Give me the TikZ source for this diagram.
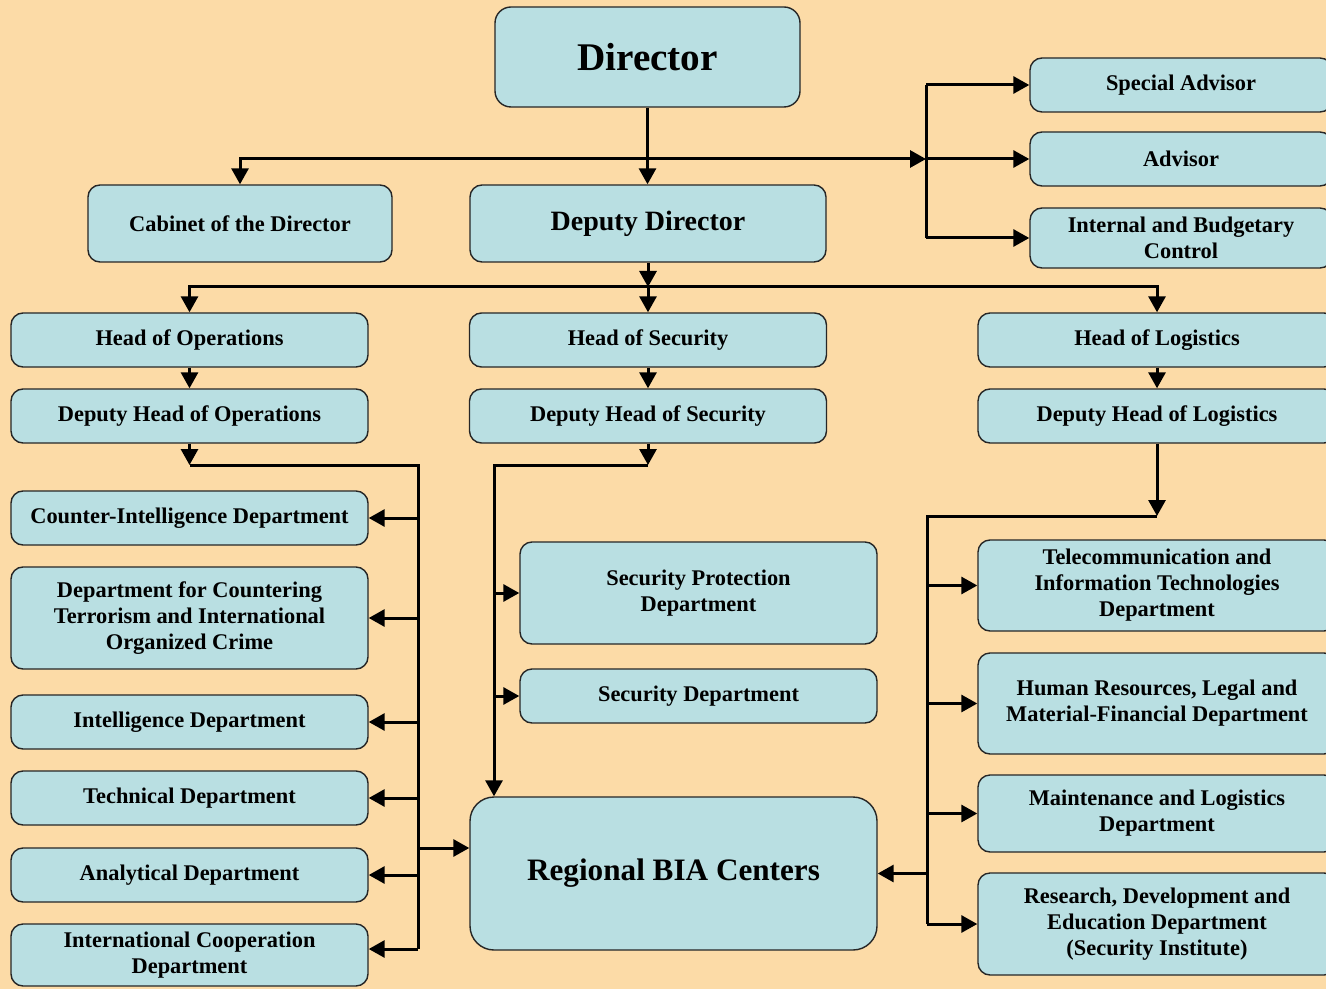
\documentclass[tikz,border=0pt]{standalone}
\usepackage{fontspec}
\setmainfont{Liberation Serif}
\usetikzlibrary{positioning,arrows.meta}
\definecolor{paper}{HTML}{FCDBA7}
\definecolor{boxfill}{HTML}{B9DFE2}

\begin{document}
\begin{tikzpicture}[x=0.5pt,y=-0.5pt,on grid,
    box/.style={draw=black!85,line width=0.7pt,fill=boxfill,rounded corners=6pt,
      minimum width=178.5pt,minimum height=27pt,inner sep=0pt,align=center,
      font=\bfseries\fontsize{11.2}{13}\selectfont},
    link/.style={line width=1.5pt,-{Triangle[length=8pt,width=8.5pt]}},
    bus/.style={line width=1.5pt}]
    \clip (0,0) rectangle (1326,989);
    \fill[paper] (0,0) rectangle (1326,989);

    % top level
    \node[box,minimum width=152.5pt,minimum height=50pt,rounded corners=8pt,
      font=\bfseries\fontsize{19.6}{22}\selectfont] (dir) at (647.5,57) {Director};
    \node[box,minimum width=152pt,minimum height=38.5pt] (cab) at (240,223.5) {Cabinet of the Director};
    \node[box,minimum width=178pt,minimum height=38.5pt,
      font=\bfseries\fontsize{14}{16}\selectfont] (ddir) at (648,223.5) {Deputy Director};
    \node[box,minimum width=151pt] (sadv) at (1181,85) {Special Advisor};
    \node[box,minimum width=151pt] (adv) [below=37pt of sadv] {Advisor};
    \node[box,minimum width=151pt,minimum height=30pt] (ibc) [below=39.5pt of adv] {Internal and Budgetary\\Control};

    % heads and deputies
    \node[box] (hops) at (189.5,340) {Head of Operations};
    \node[box] (dhops) [below=38pt of hops] {Deputy Head of Operations};
    \node[box] (hsec) at (648,340) {Head of Security};
    \node[box] (dhsec) [below=38pt of hsec] {Deputy Head of Security};
    \node[box,minimum width=179pt] (hlog) at (1157,340) {Head of Logistics};
    \node[box,minimum width=179pt] (dhlog) [below=38pt of hlog] {Deputy Head of Logistics};

    % operations
    \node[box] (ci) [below=51pt of dhops] {Counter-Intelligence Department};
    \node[box,minimum height=51pt] (ctoc) [below=50pt of ci] {Department for Countering\\Terrorism and International\\Organized Crime};
    \node[box] (intel) [below=52pt of ctoc] {Intelligence Department};
    \node[box] (tech) [below=38pt of intel] {Technical Department};
    \node[box] (anal) [below=38.5pt of tech] {Analytical Department};
    \node[box,minimum height=31pt] (icd) [below=40pt of anal] {International Cooperation\\Department};

    % security
    \node[box,minimum height=51pt] (spd) at (698.5,593) {Security Protection\\Department};
    \node[box] (sd) [below=51.5pt of spd] {Security Department};
    \node[box,minimum width=203.5pt,minimum height=76.5pt,rounded corners=12pt,
      font=\bfseries\fontsize{15.6}{18}\selectfont] (rbc) at (673.5,873.5) {Regional BIA Centers};

    % logistics
    \node[box,minimum width=179pt,minimum height=45.5pt] (tit) at (1157,585.5) {Telecommunication and\\Information Technologies\\Department};
    \node[box,minimum width=179pt,minimum height=50.5pt] (hrl) [below=59pt of tit] {Human Resources, Legal and\\Material-Financial Department};
    \node[box,minimum width=179pt,minimum height=38.5pt] (mld) [below=55pt of hrl] {Maintenance and Logistics\\Department};
    \node[box,minimum width=179pt,minimum height=51pt] (rde) [below=55.25pt of mld] {Research, Development and\\Education Department\\(Security Institute)};

    % bus points
    \coordinate (top) at (647.5,159);
    \coordinate (adj) at (926,159);
    \coordinate (dbus) at (648,287);
    \coordinate (obus) at (189.5,465);
    \coordinate (overt) at (418,465);
    \coordinate (sbus) at (648,465);
    \coordinate (svert) at (494,465);
    \coordinate (lbus) at (1157,516);
    \coordinate (lvert) at (927,516);
    \coordinate (rbcin) at ([yshift=12.75pt]rbc.west);

    % director
    \draw[link] (dir.south) -- (dir.south |- ddir.north);
    \draw[link] (top) -| (cab);
    \draw[link] (top) -- (adj);
    \draw[bus] (adj |- sadv) -- (adj |- ibc);
    \foreach \n in {sadv,adv,ibc}
        \draw[link] (adj |- \n) -- (\n);

    % deputy director
    \draw[link] (ddir) -- (dbus);
    \draw[link] (dbus) -| (hops);
    \draw[link] (dbus) -- (hsec);
    \draw[link] (dbus) -| (hlog);
    \draw[link] (hops) -- (dhops);
    \draw[link] (hsec) -- (dhsec);
    \draw[link] (hlog) -- (dhlog);

    % operations branch
    \draw[link] (dhops) -- (obus);
    \draw[bus] (obus) -- (overt) -- (overt |- 0,949);
    \foreach \n in {ci,ctoc,intel,tech,anal}
        \draw[link] (overt |- \n) -- (\n);
    \draw[link] (overt |- 0,949) -- (icd.east |- 0,949);
    \draw[link] (overt |- rbcin) -- (rbcin);

    % security branch
    \draw[link] (dhsec) -- (sbus);
    \draw[link] (sbus) -- (svert) -- (svert |- rbc.north);
    \draw[link] (svert |- spd) -- (spd);
    \draw[link] (svert |- sd) -- (sd);

    % logistics branch
    \draw[link] (dhlog) -- (lbus);
    \draw[bus] (lbus) -- (lvert) -- (lvert |- rde);
    \foreach \n in {tit,hrl,mld,rde}
        \draw[link] (lvert |- \n) -- (\n);
    \draw[link] (lvert |- rbc) -- (rbc);
\end{tikzpicture}
\end{document}
